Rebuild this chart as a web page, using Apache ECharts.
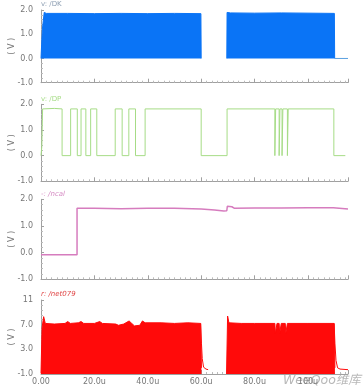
<!DOCTYPE html>
<html><head><meta charset="utf-8">
<script src="https://cdn.jsdelivr.net/npm/echarts@6/dist/echarts.min.js"></script>
<style>html,body{margin:0;padding:0;background:#fff}#c{width:364px;height:391px}</style>
</head><body><div id="c"></div>
<script>
// ---- data (time in us, value in V) ----
const xTicks = [0, 20, 40, 60, 80, 100];
const xTickLabels = ['0.00', '20.0u', '40.0u', '60.0u', '80.0u', '100u'];
const panelNames = ['v: /DK', 'v: /DP', '-: /ncal', 'r: /net079'];
// /DK : envelope of fast switching (filled from 0)
const dkSeg1 = [[0,0],[0.5,1.2],[1.2,1.9],[2,1.86],[10,1.86],[20,1.85],[30,1.86],[40,1.85],[50,1.86],[59.9,1.85],[60,0]];
const dkSeg2 = [[69.6,0],[69.7,1.9],[71,1.88],[80,1.87],[90,1.88],[100,1.87],[109.9,1.86],[110,0]];
const dkTail = [[110,0],[115,0]];
// /DP : digital signal
const dpWave = [[0,0],[0.3,0.35],[0.6,1.82],[5,1.84],[7.9,1.82],[7.9,0],[11.1,0],[11.1,1.82],[13.6,1.82],[13.6,0],[15.0,0],[15.0,1.82],[16.8,1.82],[16.8,0],[18.6,0],[18.6,1.82],[20.9,1.82],[20.9,0],[27.8,0],[27.8,1.82],[30.4,1.82],[30.4,0],[32.9,0],[32.9,1.82],[35.4,1.82],[35.4,0],[39.0,0],[39.0,1.82],[60.0,1.82],[60.0,0],[69.7,0],[69.7,1.82],[87.6,1.82],[87.6,0],[87.9,0],[87.9,1.82],[89.2,1.82],[89.2,0],[89.5,0],[89.5,1.82],[90.3,1.82],[90.3,0],[90.6,0],[90.6,1.82],[92.3,1.82],[92.3,0],[92.6,0],[92.6,1.82],[109.7,1.82],[109.7,0],[114,0]];
// /ncal
const ncalWave = [[0,-0.08],[13.5,-0.08],[13.5,1.66],[20,1.66],[30,1.65],[40,1.66],[50,1.66],[60,1.64],[65,1.6],[68.5,1.56],[69.6,1.57],[69.8,1.74],[71.5,1.72],[72.5,1.66],[80,1.67],[90,1.67],[100,1.68],[109.5,1.68],[110,1.64],[115,1.64]];
// /net079 : envelope of fast switching (filled from -1)
const netSeg1 = [[0,-0.9],[0.4,6.5],[1,8.3],[1.6,7.2],[5,7.1],[9,7.2],[10,7.5],[11,7.2],[14,7.3],[15,7.5],[16,7.2],[20,7.2],[22,7.5],[23,7.2],[28,7.1],[29,6.9],[31,7.1],[33,7.6],[34,7.2],[35,6.8],[37,6.9],[38,7.6],[39,7.3],[45,7.3],[50,7.2],[55,7.3],[59.8,7.2],[60.1,0]];
const netTail1 = [[59.8,7.2],[60.1,4],[60.4,1.5],[60.9,0.1],[61.8,-0.2],[62.6,-0.3]];
const netSeg2 = [[69.5,-1],[69.7,-1],[69.9,8.4],[70.4,7.3],[75,7.2],[80,7.2],[87.6,7.2],[87.8,5.6],[88.3,5.6],[88.4,7.2],[89.2,7.2],[89.4,5.6],[89.9,5.6],[90,7.2],[91.5,7.2],[91.7,5.6],[92.2,5.6],[92.3,7.2],[100,7.2],[109.8,7.2],[110.1,0]];
const netTail2 = [[109.8,7.2],[110.1,4],[110.5,1.2],[111.1,0],[112,-0.2],[115,-0.3]];

// ---- layout ----
const chart = echarts.init(document.getElementById('c'));
const grids = [
  {left:41, right:16, top:10, height:72.7},
  {left:41, right:16, top:104.3, height:77},
  {left:41, right:16, top:199.3, height:80},
  {left:41, right:16, top:300, height:74}
].map(g=>Object.assign(g,{containLabel:false, outerBoundsMode:'none'}));
const yRanges = [[-1,2,1],[-1,2,1],[-1,2,1],[-1,11,4]];
const axisGray = '#a0a0a0';
const lblStyle = {color:'#777', fontSize:8, fontFamily:'DejaVu Sans'};

const xAxes = grids.map((g,i)=>({
  type:'value', gridIndex:i, min:0, max:115, interval:20,
  axisLine:{show:true, onZero:false, lineStyle:{color:axisGray, width:1}},
  axisTick:{show:true, inside:true, length:4, lineStyle:{color:axisGray}},
  minorTick:{show:true, splitNumber:10, length:2, lineStyle:{color:'#bbb'}},
  splitLine:{show:false},
  axisLabel:{show:i===3, ...lblStyle, margin:4, showMaxLabel:false,
    formatter:v=>{const k=xTicks.indexOf(v);return k>=0?xTickLabels[k]:'';}}
}));
const yAxes = grids.map((g,i)=>({
  type:'value', gridIndex:i, min:yRanges[i][0], max:yRanges[i][1], interval:yRanges[i][2],
  name:'( V )', nameLocation:'middle', nameRotate:90, nameGap:25, nameMoveOverlap:false,
  nameTextStyle:{color:'#777', fontSize:8, fontFamily:'DejaVu Sans'},
  axisLine:{show:true, onZero:false, lineStyle:{color:axisGray, width:1}},
  axisTick:{show:true, inside:true, length:3, lineStyle:{color:axisGray}},
  minorTick:{show:true, splitNumber:5, length:2, lineStyle:{color:'#bbb'}},
  splitLine:{show:false},
  axisLabel:{...lblStyle, margin:8, formatter:v=>(v===11?'11':v.toFixed(1))}
}));

const blue='#0a74f6', green='#a6dc86', pink='#d67cbe', red='#ff0a0a';
function s(data, gi, color, opts){
  return Object.assign({type:'line', xAxisIndex:gi, yAxisIndex:gi, data, showSymbol:false, symbol:'none',
    animation:false, lineStyle:{color, width:1}, itemStyle:{color}}, opts||{});
}
const series = [
  s(dkSeg1,0,blue,{areaStyle:{color:blue, opacity:1}}),
  s(dkSeg2,0,blue,{areaStyle:{color:blue, opacity:1}}),
  s(dkTail,0,'#5aa0e0'),
  s(dpWave,1,green),
  s(ncalWave,2,pink,{lineStyle:{color:pink,width:1.5}}),
  s(netSeg1,3,red,{areaStyle:{color:red, opacity:1, origin:'start'}}),
  s(netTail1,3,red),
  s(netSeg2,3,red,{areaStyle:{color:red, opacity:1, origin:'start'}}),
  s(netTail2,3,red)
];

const titleColors = ['#8fa0b4', '#a6dc86', '#d68cc4', '#e04848'];
const graphic = grids.map((g,i)=>({
  type:'text', left:41, top:g.top-9,
  style:{text:panelNames[i], fill:titleColors[i], fontSize:7, fontFamily:'DejaVu Sans', fontStyle:i>=2?'italic':'normal'}
}));
graphic.push({type:'text', left:283, top:374,
  style:{text:'WeeQoo维库', fill:'#b8b8b8', fontSize:12.5, fontStyle:'italic', fontFamily:'DejaVu Sans, Noto Sans CJK SC'}});

chart.setOption({
  animation:false,
  backgroundColor:'#fff',
  grid:grids, xAxis:xAxes, yAxis:yAxes, series, graphic
});
</script></body></html>
